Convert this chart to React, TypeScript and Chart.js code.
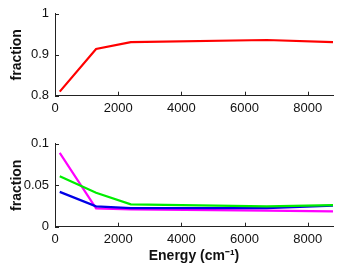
import React, { useEffect, useRef } from "react";
import { Chart, registerables } from "chart.js";

Chart.register(...registerables);

const energies = [150, 1300, 2400, 6700, 8800];
const topValues = [0.81, 0.914, 0.931, 0.936, 0.931];
const magentaValues = [0.089, 0.022, 0.021, 0.0195, 0.0185];
const greenValues = [0.061, 0.041, 0.027, 0.0245, 0.026];
const blueValues = [0.042, 0.0245, 0.0225, 0.0225, 0.0255];
const xTicks = [0, 2000, 4000, 6000, 8000];
const topYTicks = [0.8, 0.9, 1];
const bottomYTicks = [0, 0.05, 0.1];
const topYLabels = ["0.8", "0.9", "1"];
const bottomYLabels = ["0", "0.05", "0.1"];

const FONT = "'Liberation Sans', Arial, Helvetica, sans-serif";

const inwardTicks = {
  id: "inwardTicks",
  afterDraw(chart: any) {
    const { ctx, chartArea, scales } = chart;
    ctx.save();
    ctx.strokeStyle = "#222";
    ctx.lineWidth = 1;
    ctx.beginPath();
    for (const t of scales.x.ticks) {
      const px = Math.round(scales.x.getPixelForValue(t.value)) + 0.5;
      ctx.moveTo(px, chartArea.bottom);
      ctx.lineTo(px, chartArea.bottom - 4);
    }
    for (const t of scales.y.ticks) {
      const py = Math.round(scales.y.getPixelForValue(t.value)) + 0.5;
      ctx.moveTo(chartArea.left, py);
      ctx.lineTo(chartArea.left + 4, py);
    }
    ctx.stroke();
    ctx.restore();
  },
};

function makeLine(label: string, data: number[], color: string) {
  return {
    label,
    data: energies.map((x, i) => ({ x, y: data[i] })),
    borderColor: color,
    backgroundColor: color,
    borderWidth: 2.2,
    pointRadius: 0,
    tension: 0,
  };
}

function buildOptions(
  yMin: number,
  yMax: number,
  yTicks: number[],
  yLabels: string[],
  xHeight: number,
  showXTitle: boolean,
  padTop: number
) {
  return {
    animation: false,
    responsive: false,
    maintainAspectRatio: false,
    layout: { padding: { top: padTop, right: 5, left: 0, bottom: 0 } },
    plugins: { legend: { display: false }, tooltip: { enabled: false } },
    scales: {
      x: {
        type: "linear",
        min: 0,
        max: 8800,
        afterBuildTicks: (s: any) => {
          s.ticks = xTicks.map((v) => ({ value: v }));
        },
        afterFit: (s: any) => {
          s.height = xHeight;
        },
        grid: { display: false, drawTicks: false },
        border: { display: true, color: "#222", width: 1 },
        ticks: {
          color: "#111",
          font: { family: FONT, size: 13 },
          padding: 5,
          maxRotation: 0,
          autoSkip: false,
          callback: (v: any) => String(v),
        },
        title: {
          display: showXTitle,
          text: "Energy (cm\u207B\u00B9)",
          color: "#111",
          font: { family: FONT, size: 14, weight: "bold" },
          padding: { top: 0, bottom: 2 },
        },
      },
      y: {
        type: "linear",
        min: yMin,
        max: yMax,
        afterBuildTicks: (s: any) => {
          s.ticks = yTicks.map((v) => ({ value: v }));
        },
        afterFit: (s: any) => {
          s.width = 55;
        },
        grid: { display: false, drawTicks: false },
        border: { display: true, color: "#222", width: 1 },
        ticks: {
          color: "#111",
          font: { family: FONT, size: 13 },
          padding: 6,
          autoSkip: false,
          callback: (v: any) => {
            const i = yTicks.findIndex((t) => Math.abs(t - v) < 1e-9);
            return i >= 0 ? yLabels[i] : "";
          },
        },
        title: {
          display: true,
          text: "fraction",
          color: "#111",
          font: { family: FONT, size: 14, weight: "bold" },
          padding: { top: 8.5, bottom: 0 },
        },
      },
    },
  };
}

function TopChart() {
  const ref = useRef<HTMLCanvasElement>(null);
  useEffect(() => {
    const chart = new Chart(ref.current as HTMLCanvasElement, {
      type: "line",
      data: { datasets: [makeLine("fraction", topValues, "#ff0000")] },
      options: buildOptions(0.8, 1, topYTicks, topYLabels, 34.3, false, 12.7) as any,
      plugins: [inwardTicks],
    });
    return () => chart.destroy();
  }, []);
  return (
    <canvas
      ref={ref}
      width={338}
      height={130}
      style={{ position: "absolute", left: 0, top: 0, width: 338, height: 130 }}
    />
  );
}

function BottomChart() {
  const ref = useRef<HTMLCanvasElement>(null);
  useEffect(() => {
    const chart = new Chart(ref.current as HTMLCanvasElement, {
      type: "line",
      data: {
        datasets: [
          makeLine("green", greenValues, "#00ee00"),
          makeLine("blue", blueValues, "#0000e6"),
          makeLine("magenta", magentaValues, "#ff00ff"),
        ],
      },
      options: buildOptions(0, 0.1, bottomYTicks, bottomYLabels, 40.3, true, 13.7) as any,
      plugins: [inwardTicks],
    });
    return () => chart.destroy();
  }, []);
  return (
    <canvas
      ref={ref}
      width={338}
      height={137}
      style={{ position: "absolute", left: 0, top: 130, width: 338, height: 137 }}
    />
  );
}

export default function App() {
  return (
    <div
      style={{
        position: "fixed",
        left: 0,
        top: 0,
        width: 338,
        height: 267,
        background: "#fff",
        overflow: "hidden",
      }}
    >
      <TopChart />
      <BottomChart />
    </div>
  );
}
